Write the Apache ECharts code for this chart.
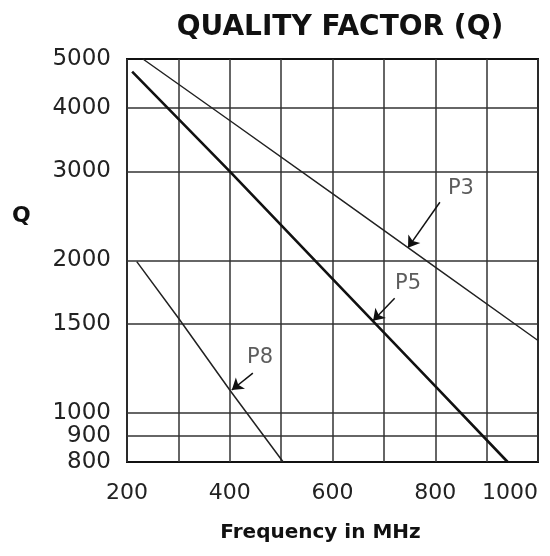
<!DOCTYPE html>
<html>
<head>
<meta charset="utf-8">
<script src="https://cdn.jsdelivr.net/npm/echarts@6/dist/echarts.min.js"></script>
<style>
html,body{margin:0;padding:0;background:#fff;}
#chart{width:550px;height:556px;}
</style>
</head>
<body>
<div id="chart"></div>
<script>
// ---- data ----
var titleText = 'QUALITY FACTOR (Q)';
var xName = 'Frequency in MHz';
var yName = 'Q';
var xMin = 200, xMax = 1000, xStep = 100;
var yMin = 800, yMax = 5000;
var yTickValues = [800, 900, 1000, 1500, 2000, 3000, 4000, 5000];
var yGridValues = [900, 1000, 1500, 2000, 3000, 4000];

var p3Freq = [231, 400, 600, 800, 1000];
var p3Q    = [5000, 3780, 2710, 1940, 1390];
var p5Freq = [210, 400, 600, 800, 941];
var p5Q    = [4720, 3000, 1840, 1130, 800];
var p8Freq = [219, 300, 400, 504];
var p8Q    = [1990, 1540, 1110, 800];

var labelNames = ['P3', 'P5', 'P8'];
var labelFreq  = [850, 747, 459];
var labelQ     = [2780, 1804, 1289];
var arrowFromFreq = [809, 721, 445];
var arrowFromQ    = [2607, 1685, 1198];
var arrowToFreq   = [747, 679, 404];
var arrowToQ      = [2120, 1520, 1110];

function pairs(xs, ys){ return xs.map(function(x,i){ return [x, ys[i]]; }); }

var FONT = 'DejaVu Sans';
var chart = echarts.init(document.getElementById('chart'), null, {renderer:'canvas'});

var gridLines = yGridValues.map(function(v){ return {yAxis: v}; });
var arrows = labelNames.map(function(n, i){
  return [{coord:[arrowFromFreq[i], arrowFromQ[i]]}, {coord:[arrowToFreq[i], arrowToQ[i]]}];
});

var option = {
  animation: false,
  backgroundColor: '#fff',
  title: {
    text: titleText,
    left: 335, top: 9,
    textAlign: 'center',
    textStyle: {fontFamily: FONT, fontWeight: 'bold', fontSize: 28, color: '#111'}
  },
  graphic: [{
    type: 'text', left: 12, top: 205,
    style: {text: yName, font: 'bold 22px "DejaVu Sans"', fill: '#111'}
  }],
  grid: {
    left: 127, right: 12, top: 59, bottom: 94,
    show: true, borderColor: '#111', borderWidth: 2, backgroundColor: 'transparent'
  },
  xAxis: {
    type: 'value', min: xMin, max: xMax, interval: xStep,
    name: xName, nameLocation: 'middle', nameGap: 61,
    nameTextStyle: {fontFamily: FONT, fontWeight: 'bold', fontSize: 20, color: '#111', padding:[0,24,0,0]},
    axisLine: {show: false},
    axisTick: {show: false},
    splitLine: {show: true, lineStyle: {color: '#333', width: 1.5}},
    axisLabel: {
      margin: 20, fontFamily: FONT, fontSize: 22, color: '#222',
      alignMaxLabel: 'right',
      formatter: function(v){ return v % 200 === 0 ? String(v) : ''; }
    }
  },
  yAxis: {
    type: 'log', logBase: 10, min: yMin, max: yMax,
    axisLine: {show: false},
    axisTick: {show: false},
    splitLine: {show: false},
    minorSplitLine: {show: false},
    axisLabel: {
      margin: 16, fontFamily: FONT, fontSize: 23, color: '#222',
      customValues: yTickValues,
      formatter: function(v){ return String(Math.round(v)); }
    }
  },
  series: [
    {
      name: 'grid', type: 'line', data: [], silent: true,
      markLine: {
        silent: true, symbol: ['none','none'],
        label: {show: false},
        lineStyle: {color: '#333', width: 1.5, type: 'solid'},
        data: gridLines
      }
    },
    {
      name: 'P3', type: 'line', data: pairs(p3Freq, p3Q), showSymbol: false,
      lineStyle: {color: '#222', width: 1.5}, z: 5
    },
    {
      name: 'P5', type: 'line', data: pairs(p5Freq, p5Q), showSymbol: false,
      lineStyle: {color: '#111', width: 2.6}, z: 5
    },
    {
      name: 'P8', type: 'line', data: pairs(p8Freq, p8Q), showSymbol: false,
      lineStyle: {color: '#222', width: 1.5}, z: 5
    },
    {
      name: 'labels', type: 'scatter', z: 6,
      data: labelNames.map(function(n,i){ return [labelFreq[i], labelQ[i], n]; }),
      symbolSize: 1, itemStyle: {color: 'rgba(0,0,0,0)'},
      label: {
        show: true, position: 'inside', color: '#333',
        fontFamily: FONT, fontSize: 21,
        formatter: function(p){ return p.value[2]; }
      },
      markLine: {
        silent: true, symbol: ['none', 'arrow'], symbolSize: 11,
        label: {show: false},
        itemStyle: {color: '#111'},
        lineStyle: {color: '#111', width: 1.5, type: 'solid'},
        data: arrows
      }
    }
  ]
};
chart.setOption(option);
</script>
</body>
</html>
